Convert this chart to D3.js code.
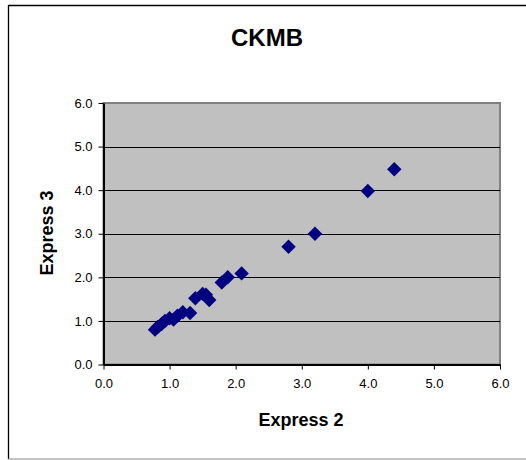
<!DOCTYPE html>
<html><head><meta charset="utf-8">
<script src="https://cdn.jsdelivr.net/npm/d3@7"></script>
<style>html,body{margin:0;padding:0;background:#fff;overflow:hidden;}svg{display:block;font-family:"Liberation Sans",Arial,sans-serif;}</style>
</head><body>
<script>
const title = "CKMB";
const xLabel = "Express 2";
const yLabel = "Express 3";
const xValues = [0.78,0.82,0.88,0.93,1.0,1.06,1.12,1.2,1.31,1.39,1.5,1.55,1.6,1.79,1.88,2.09,2.8,3.2,4.0,4.4];
const yValues = [0.8,0.86,0.93,1.0,1.06,1.03,1.12,1.2,1.18,1.52,1.62,1.6,1.48,1.88,2.0,2.09,2.7,3.0,3.98,4.48];
const tickValues = [0,1,2,3,4,5,6];
const tickLabels = ["0.0","1.0","2.0","3.0","4.0","5.0","6.0"];

(function () {
const W = 526, H = 460;
const svg = d3.select("body").append("svg").attr("width", W).attr("height", H);

// outer frame (clipped on right and bottom in the reference)
svg.append("line").attr("x1", 8.5).attr("x2", 8.5).attr("y1", 5).attr("y2", 459).attr("stroke", "#000").attr("stroke-width", 1.3);
svg.append("line").attr("x1", 8).attr("x2", W).attr("y1", 5.5).attr("y2", 5.5).attr("stroke", "#000").attr("stroke-width", 1.3);
svg.append("line").attr("x1", 8).attr("x2", W).attr("y1", 459).attr("y2", 459).attr("stroke", "#888");

const pl = 103.5, pr = 500, pt = 103, pb = 364.5;
const x = d3.scaleLinear().domain([0, 6]).range([pl, pr]);
const y = d3.scaleLinear().domain([0, 6]).range([pb, pt]);

// plot area
svg.append("rect").attr("x", pl).attr("y", pt).attr("width", pr - pl).attr("height", pb - pt)
  .attr("fill", "#c0c0c0").attr("stroke", "#808080").attr("stroke-width", 2);

// gridlines
svg.append("g").selectAll("line").data(tickValues.filter(v => v > 0 && v < 6)).join("line")
  .attr("x1", pl).attr("x2", pr).attr("y1", d => Math.round(y(d)) + 0.5).attr("y2", d => Math.round(y(d)) + 0.5)
  .attr("stroke", "#000").attr("stroke-width", 1);

// axes
const xAxis = d3.axisBottom(x).tickValues(tickValues).tickFormat((d, i) => tickLabels[i]).tickSize(5).tickSizeOuter(0).tickPadding(6);
const yAxis = d3.axisLeft(y).tickValues(tickValues).tickFormat((d, i) => tickLabels[i]).tickSize(5).tickSizeOuter(0).tickPadding(6);
const gx = svg.append("g").attr("transform", `translate(0,${pb})`).call(xAxis);
const gy = svg.append("g").attr("transform", `translate(${pl},0)`).call(yAxis);
[gx, gy].forEach(g => {
  g.selectAll("path").attr("stroke", "#000").attr("stroke-width", 2);
  g.selectAll("line").attr("stroke", "#000");
  g.selectAll("text").attr("font-size", 13).attr("fill", "#000").attr("font-family", "Liberation Sans, Arial, sans-serif");
});
gx.selectAll("text").attr("dy", "0.95em");

// points (square diamonds)
const sym = d3.symbol().type(d3.symbolSquare).size(104);
svg.append("g").selectAll("path").data(xValues.map((v, i) => [v, yValues[i]])).join("path")
  .attr("d", sym)
  .attr("transform", d => `translate(${x(d[0])},${y(d[1])}) rotate(45)`)
  .attr("fill", "#000080");

// titles
svg.append("text").attr("x", 267).attr("y", 46).attr("text-anchor", "middle")
  .attr("font-size", 24).attr("font-weight", "bold").text(title);
svg.append("text").attr("x", 301).attr("y", 426).attr("text-anchor", "middle")
  .attr("font-size", 18).attr("font-weight", "bold").text(xLabel);
svg.append("text").attr("transform", "translate(53,233) rotate(-90)").attr("text-anchor", "middle")
  .attr("font-size", 18).attr("font-weight", "bold").text(yLabel);
})();
</script>
</body></html>
